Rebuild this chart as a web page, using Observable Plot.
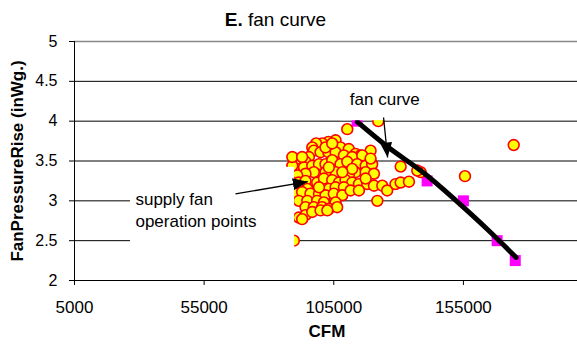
<!DOCTYPE html>
<html><head><meta charset="utf-8">
<script src="https://cdn.jsdelivr.net/npm/d3@7"></script>
<script src="https://cdn.jsdelivr.net/npm/@observablehq/plot@0.6"></script>
<style>
html,body{margin:0;padding:0;background:#fff;overflow:hidden;width:577px;height:347px;}
#title{font-family:"Liberation Sans",Arial,sans-serif;font-size:19px;line-height:20px;height:20px;padding-top:10px;text-align:center;padding-right:26px;width:551px;color:#000;}
</style></head><body>
<div id="title"><b>E.</b> fan curve</div>
<div id="chart"></div>
<script>
// supply fan operation points
const opCFM = [105700,102900,100500,98200,96700,107600,110800,113400,115300,119200,110200,122150,
  97300,99900,102900,105700,108900,112100,116000,95400,90300,92200,94100,
  88300,90900,93500,96700,99300,101800,104400,107600,110200,114000,117300,119800,113400,117300,120500,110800,105700,101800,97300,94100,90900,
  89000,91500,94100,98600,101200,104400,107000,109500,112100,114700,117900,120500,123700,125600,128800,130800,134000,94800,103100,105700,108900,
  90300,92800,96000,99300,101800,105000,108300,111500,114700,121800,91500,94800,98600,101200,105700,94100,97300,100500,103100,106300,
  91500,94100,96700,99900,102500,92800,89600,130800,138500,137200,155600,174400,89000,89000,
  99300,112100,103100,108300,117300,119200,92800,101800,104400];
const opPressure = [3.76,3.74,3.72,3.72,3.67,3.67,3.65,3.59,3.57,3.63,3.90,4.00,
  3.63,3.61,3.61,3.61,3.57,3.55,3.57,3.55,3.53,3.46,3.49,
  3.34,3.40,3.42,3.44,3.46,3.46,3.51,3.46,3.49,3.46,3.44,3.46,3.36,3.36,3.34,3.32,3.36,3.36,3.36,3.34,3.32,
  3.23,3.23,3.25,3.23,3.28,3.26,3.23,3.26,3.23,3.21,3.21,3.19,3.19,3.13,3.21,3.23,3.24,3.15,3.15,3.17,3.17,
  3.09,3.11,3.09,3.09,3.07,3.09,3.07,3.13,3.13,3.00,3.00,3.00,3.00,2.98,2.98,2.92,2.92,2.92,2.90,2.92,
  2.79,2.82,2.86,2.88,2.88,2.77,2.50,3.43,3.36,3.38,3.31,3.70,3.44,3.55,
  3.17,3.40,3.42,3.36,3.28,3.53,3.55,3.67,3.72];

// fan curve points (squares)
const fanCFM = [114000,141000,155000,168000,175000];
const fanPressure = [4.00,3.25,3.00,2.50,2.25];

// fan curve trend line
const curveCFM = [114100,126900,138500,151200,164300,175300];
const curvePressure = [3.99,3.65,3.38,3.03,2.64,2.29];

// axes
const xTicks = [5000,55000,105000,155000];
const yTicks = [2,2.5,3,3.5,4,4.5,5];
const gridValues = [2.5,3,3.5,4,4.5];
const topValue = [5];
const xLabel = "CFM";
const yLabel = "FanPressureRise (inWg.)";

// annotations
const noteText = ["supply fan\noperation points","fan curve"];
const noteCFM = [28500,111200];
const notePressure = [3.135,4.39];
const boxCFM1 = [26600,107600];
const boxCFM2 = [89900,142000];
const boxP1 = [2.41,4.006];
const boxP2 = [3.42,4.45];
const arrowCFM1 = [67100,124200];
const arrowP1 = [3.088,4.046];
const arrowCFM2 = [95000,125760];
const arrowP2 = [3.24,3.544];

const ops = opCFM.map((c,i)=>({cfm:c, p:opPressure[i]}));
const fans = fanCFM.map((c,i)=>({cfm:c, p:fanPressure[i]}));
const curve = curveCFM.map((c,i)=>({cfm:c, p:curvePressure[i]}));
const notes = noteText.map((t,i)=>({text:t, cfm:noteCFM[i], p:notePressure[i]}));
const boxes = boxCFM1.map((c,i)=>({x1:c, x2:boxCFM2[i], y1:boxP1[i], y2:boxP2[i]}));
const arrows = arrowCFM1.map((c,i)=>({x1:c, y1:arrowP1[i], x2:arrowCFM2[i], y2:arrowP2[i]}));

const chart = Plot.plot({
  width: 577, height: 317,
  marginLeft: 74, marginRight: 0, marginTop: 11, marginBottom: 67,
  style: {fontFamily: "'Liberation Sans', Arial, sans-serif", fontSize: "17px", color: "#000", background: "#fff", overflow: "visible"},
  x: {domain: [5000, 199000]},
  y: {domain: [2, 5]},
  marks: [
    Plot.ruleY(gridValues, {stroke: "#000", strokeWidth: 1}),
    Plot.ruleY(topValue, {stroke: "#888", strokeWidth: 1.5}),
    Plot.axisX(xTicks, {tickSize: 5, tickPadding: 15, tickFormat: d3.format("d"), fontSize: 17, label: null, stroke: "#000"}),
    Plot.axisY(yTicks, {tickSize: 5, tickPadding: 12, tickFormat: d => `${d}`, fontSize: 16, label: null, stroke: "#000"}),
    Plot.ruleX([5000], {stroke: "#000"}),
    Plot.ruleY([2], {stroke: "#000"}),
    Plot.dot(fans, {x: "cfm", y: "p", symbol: "square", r: 6.2, fill: "#FF00FF"}),
    Plot.dot(ops, {x: "cfm", y: "p", r: 5.4, fill: "#FFFF00", stroke: "#FF0000", strokeWidth: 1.6}),
    Plot.line(curve, {x: "cfm", y: "p", curve: "natural", stroke: "#000", strokeWidth: 5}),
    Plot.rect(boxes, {x1: "x1", x2: "x2", y1: "y1", y2: "y2", fill: "#fff"}),
    Plot.text(notes, {x: "cfm", y: "p", text: "text", textAnchor: "start", lineAnchor: "top", lineHeight: 1.27, fontSize: 17, fill: "#000"}),
    Plot.link(arrows, {x1: "x1", y1: "y1", x2: "x2", y2: "y2", stroke: "#000", strokeWidth: 1.3, className: "ann-arrow"}),
    Plot.text([xLabel], {frameAnchor: "bottom", dx: 1, dy: 56, fontWeight: "bold", fontSize: 17, fill: "#000"}),
    Plot.text([yLabel], {frameAnchor: "left", textAnchor: "middle", dx: -57, rotate: -90, fontWeight: "bold", fontSize: 17, fill: "#000"})
  ]
});
document.getElementById("chart").appendChild(chart);

const svg = d3.select(chart);
const defs = svg.insert("defs", ":first-child");
defs.append("marker").attr("id", "ah").attr("viewBox", "0 0 15 12").attr("refX", 15).attr("refY", 6)
  .attr("markerWidth", 15).attr("markerHeight", 12).attr("markerUnits", "userSpaceOnUse").attr("orient", "auto")
  .append("path").attr("d", "M0,0L15,6L0,12Z").attr("fill", "#000");
svg.selectAll("g.ann-arrow path").attr("marker-end", "url(#ah)");
</script></body></html>
